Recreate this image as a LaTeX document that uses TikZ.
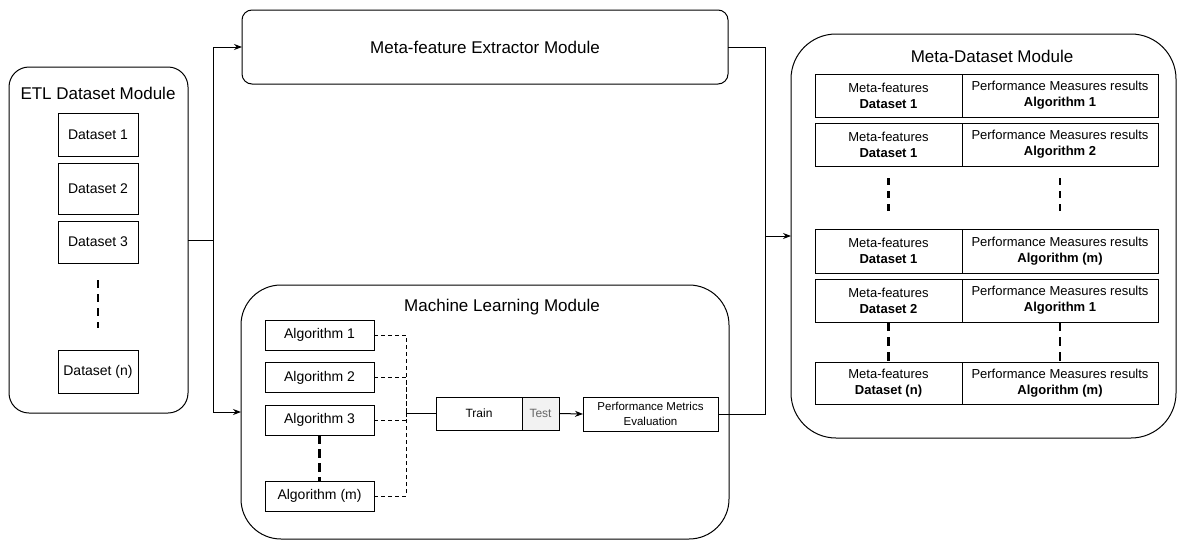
\documentclass[tikz,border=0pt]{standalone}
\usepackage{fontspec}
\setmainfont{Liberation Sans}
\usetikzlibrary{arrows.meta}
\begin{document}
\begin{tikzpicture}[x=1pt,y=-1pt,
  every node/.style={inner sep=0pt,outer sep=0pt},
  module/.style={draw,line width=1pt,rounded corners=#1},
  modtitle/.style={font=\fontsize{17}{20}\selectfont},
  box/.style={draw,line width=1pt,font=\fontsize{14}{17}\selectfont},
  cell/.style={draw,line width=1pt,align=center,font=\fontsize{13}{16}\selectfont},
  small/.style={draw,line width=1pt,align=center,font=\fontsize{12}{15}\selectfont},
  conn/.style={line width=1pt},
  arr/.style={line width=1pt,-{Stealth[length=8pt,width=6pt]}},
  dots/.style={line width=2.2pt,dash pattern=on 8pt off 6pt},
  thindash/.style={line width=1pt,dash pattern=on 4pt off 3pt}
]
\useasboundingbox (0,0) rectangle (1177,541);

% ETL module
\node[module=20pt,minimum width=179pt,minimum height=346pt] (etl) at (98.5,240) {};
\node[modtitle] (etlt) at (98,93) {ETL Dataset Module};
\node[box,minimum width=80pt,minimum height=43pt] (d1) at (98,134.5) {Dataset 1};
\node[box,minimum width=80pt,minimum height=51pt] (d2) at (98,188.5) {Dataset 2};
\node[box,minimum width=80pt,minimum height=42pt] (d3) at (98,242) {Dataset 3};
\node[box,minimum width=80pt,minimum height=43pt] (dn) at (98,371.5) {Dataset (n)};
\draw[dots,shorten <=17pt,shorten >=22pt] (d3.south) -- (dn.north);

% Meta-feature extractor
\node[module=10pt,minimum width=486pt,minimum height=74pt,font=\fontsize{17}{20}\selectfont] (mfe) at (485,47) {Meta-feature Extractor Module};

% Machine learning module
\node[module=40pt,minimum width=488pt,minimum height=254pt] (ml) at (485,412) {};
\node[modtitle] (mlt) at (502,307) {Machine Learning Module};
\node[box,minimum width=109pt,minimum height=30pt] (a1) at (319.5,335) {Algorithm 1};
\node[box,minimum width=109pt,minimum height=30pt] (a2) at (319.5,377.5) {Algorithm 2};
\node[box,minimum width=109pt,minimum height=30pt] (a3) at (319.5,420) {Algorithm 3};
\node[box,minimum width=109pt,minimum height=30pt] (am) at (319.5,496) {Algorithm (m)};
\draw[dots,dash pattern=on 9pt off 5pt] (a3.south) -- (am.north);
\node[small,minimum width=86pt,minimum height=33pt] (train) at (479,413.5) {Train};
\node[small,minimum width=37pt,minimum height=33pt,fill=black!5,text=black!60] (test) at (540.5,413.5) {Test};
\node[small,minimum width=135pt,minimum height=34pt,font=\fontsize{11.5}{15}\selectfont] (perf) at (650.5,414) {Performance Metrics\\Evaluation};
\coordinate (jx) at (406,413.5);
\draw[thindash] (a1.east) -| (jx);
\draw[thindash] (a2.east) -| (jx);
\draw[thindash] (a3.east) -| (jx);
\draw[thindash] (am.east) -| (jx);
\draw[conn] (jx) -- (train.west);
\draw[arr] (test.east) -- (perf.west);

% Meta-dataset module
\node[module=45pt,minimum width=385pt,minimum height=404pt] (md) at (983.5,236) {};
\node[modtitle] (mdt) at (992,56) {Meta-Dataset Module};
\foreach \i/\y/\h/\ds/\al in {1/95.5/43/Dataset 1/Algorithm 1,
                            2/144.5/43/Dataset 1/Algorithm 2,
                            3/251/44/Dataset 1/Algorithm (m),
                            4/300.5/43/Dataset 2/Algorithm 1,
                            5/383/42/Dataset (n)/Algorithm (m)}{
  \node[cell,minimum width=147pt,minimum height=\h pt] (l\i) at (888.5,\y) {Meta-features\\\textbf{\ds}};
  \node[cell,minimum width=196pt,minimum height=\h pt] (r\i) at (1060,\y) {Performance Measures results\\\textbf{\al}};
}
\draw[dots,dash pattern=on 7pt off 6pt,shorten <=12pt,shorten >=16pt] (l2.south) -- (l3.north);
\draw[dots,dash pattern=on 7pt off 6pt,shorten <=12pt,shorten >=16pt] (r2.south) -- (r3.north);
\draw[dots,dash pattern=on 9pt off 6pt] (l4.south) -- (l5.north);
\draw[dots,dash pattern=on 9pt off 6pt] (r4.south) -- (r5.north);

% connectors
\coordinate (j) at (213,240);
\coordinate (k) at (765,236);
\draw[conn] (etl.east) -- (j);
\draw[arr] (j) |- (mfe.west);
\draw[arr] (j) |- (ml.west);
\draw[conn] (mfe.east) -| (k);
\draw[conn] (perf.east) -| (k);
\draw[arr] (k) -- (md.west);
\end{tikzpicture}
\end{document}
